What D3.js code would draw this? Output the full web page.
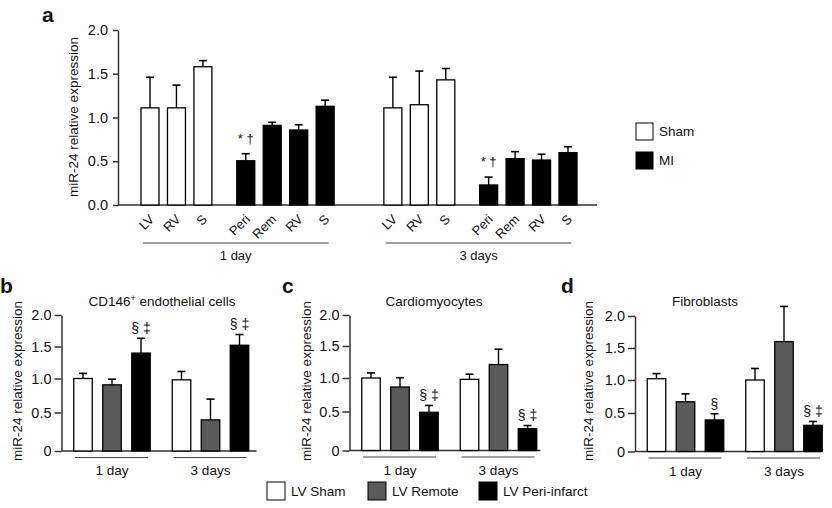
<!DOCTYPE html>
<html><head><meta charset="utf-8">
<script src="https://cdn.jsdelivr.net/npm/d3@7"></script>
<style>
body{margin:0;background:#fff}
svg{display:block}
text{font-family:"Liberation Sans",Arial,Helvetica,sans-serif;fill:#111}
</style>
</head><body>
<svg id="chart" width="832" height="508"></svg>
<script>
// ---------------- DATA ----------------
// Panel a: whole-tissue miR-24 (Sham vs MI), 1 day and 3 days
const aDays = ["1 day", "3 days"];
const aShamLabels = ["LV", "RV", "S"];
const aMILabels = ["Peri", "Rem", "RV", "S"];
const aSham1Day = [1.11, 1.11, 1.58];
const aSham1DayErr = [0.35, 0.26, 0.07];
const aMI1Day = [0.506, 0.91, 0.857, 1.128];
const aMI1DayErr = [0.08, 0.035, 0.06, 0.07];
const aSham3Day = [1.11, 1.146, 1.43];
const aSham3DayErr = [0.35, 0.385, 0.13];
const aMI3Day = [0.229, 0.53, 0.514, 0.598];
const aMI3DayErr = [0.09, 0.08, 0.066, 0.068];
const aMIMarks = ["* \u2020", "", "", ""];
const aTickValues = [0, 0.5, 1.0, 1.5, 2.0];
const aTickLabels = ["0.0", "0.5", "1.0", "1.5", "2.0"];
const aLegend = ["Sham", "MI"];

// Panels b-d: isolated cell types
const cellSeries = ["LV Sham", "LV Remote", "LV Peri-infarct"];
const cellDays = ["1 day", "3 days"];
const cellTickValues = [0, 0.5, 1.0, 1.5, 2.0];
const cellTickLabels = ["0", "0.5", "1.0", "1.5", "2.0"];

const bTitle = "CD146";
const b1Day = [1.0, 0.907, 1.397];
const b1DayErr = [0.08, 0.083, 0.233];
const b3Day = [0.98, 0.404, 1.52];
const b3DayErr = [0.13, 0.293, 0.17];
const bMarks1Day = ["", "", "\u00a7 \u2021"];
const bMarks3Day = ["", "", "\u00a7 \u2021"];

const cTitle = "Cardiomyocytes";
const c1Day = [1.0, 0.865, 0.49];
const c1DayErr = [0.08, 0.14, 0.10];
const c3Day = [0.98, 1.21, 0.28];
const c3DayErr = [0.08, 0.24, 0.04];
const cMarks1Day = ["", "", "\u00a7 \u2021"];
const cMarks3Day = ["", "", "\u00a7 \u2021"];

const dTitle = "Fibroblasts";
const d1Day = [1.02, 0.67, 0.41];
const d1DayErr = [0.08, 0.12, 0.08];
const d3Day = [1.0, 1.60, 0.34];
const d3DayErr = [0.18, 0.55, 0.05];
const dMarks1Day = ["", "", "\u00a7"];
const dMarks3Day = ["", "", "\u00a7 \u2021"];

// ---------------- STYLE ----------------
const AXIS = "#333";
const seriesFill = {"LV Sham": "#ffffff", "LV Remote": "#5b5b5b", "LV Peri-infarct": "#000000"};
const svg = d3.select("#chart");

function drawYAxis(g, y, x, tickLabels, tickValues, tickLen, pad) {
  const ax = d3.axisLeft(y).tickValues(tickValues)
    .tickFormat((d, i) => tickLabels[i]).tickSize(tickLen).tickSizeOuter(0).tickPadding(pad);
  const gg = g.append("g").attr("transform", `translate(${x},0)`).call(ax);
  gg.select(".domain").attr("stroke", AXIS).attr("stroke-width", 1.5);
  gg.selectAll(".tick line").attr("stroke", AXIS).attr("stroke-width", 1.5);
  gg.selectAll(".tick text").attr("font-size", "14.5px").attr("fill", "#111")
    .attr("font-family", '"Liberation Sans",Arial,Helvetica,sans-serif');
  return gg;
}

function drawBar(g, cx, w, y, v, e, fill) {
  const y0 = y(0);
  if (e > 0) {
    g.append("line").attr("x1", cx).attr("x2", cx).attr("y1", y(v)).attr("y2", y(v + e))
      .attr("stroke", "#000").attr("stroke-width", 1.4);
    g.append("line").attr("x1", cx - 4).attr("x2", cx + 4).attr("y1", y(v + e)).attr("y2", y(v + e))
      .attr("stroke", "#000").attr("stroke-width", 1.6);
  }
  g.append("rect").attr("x", cx - w / 2).attr("y", y(v)).attr("width", w).attr("height", y0 - y(v))
    .attr("fill", fill).attr("stroke", "#000").attr("stroke-width", 1.3);
}

// ---------------- PANEL a ----------------
(function () {
  const g = svg.append("g");
  const axisX = 118;
  const y = d3.scaleLinear().domain([0, 2]).range([205, 30]);
  // slot layout: Sham bars 0..2, MI bars start after a gap; second day offset
  const MI_OFFSET = 3.62, DAY_OFFSET = 9.18;
  const x = d3.scaleLinear().domain([0, 15.8]).range([150, 568]);
  const bw = 18;
  const shamVals = [aSham1Day, aSham3Day], shamErr = [aSham1DayErr, aSham3DayErr];
  const miVals = [aMI1Day, aMI3Day], miErr = [aMI1DayErr, aMI3DayErr];

  // baseline
  g.append("line").attr("x1", axisX).attr("x2", 597).attr("y1", y(0)).attr("y2", y(0))
    .attr("stroke", AXIS).attr("stroke-width", 1.5);

  aDays.forEach((day, di) => {
    const base = di * DAY_OFFSET;
    const labels = [];
    shamVals[di].forEach((v, i) => {
      const cx = x(base + i);
      drawBar(g, cx, bw, y, v, shamErr[di][i], "#fff");
      labels.push([cx, aShamLabels[i]]);
    });
    miVals[di].forEach((v, j) => {
      const cx = x(base + MI_OFFSET + j);
      drawBar(g, cx, bw, y, v, miErr[di][j], "#000");
      labels.push([cx, aMILabels[j]]);
      if (aMIMarks[j]) {
        g.append("text").attr("x", cx).attr("y", y(v + miErr[di][j]) - 11)
          .attr("text-anchor", "middle").attr("font-size", "13px").text(aMIMarks[j]);
      }
    });
    labels.forEach(([cx, t]) => {
      g.append("text").attr("transform", `translate(${cx + 5},220) rotate(-45)`)
        .attr("text-anchor", "end").attr("font-size", "13px").text(t);
    });
    const x1 = x(base - 0.27), x2 = x(base + MI_OFFSET + 3 + 0.13);
    g.append("line").attr("x1", x1).attr("x2", x2).attr("y1", 243).attr("y2", 243)
      .attr("stroke", "#444").attr("stroke-width", 1.2);
    g.append("text").attr("x", (x1 + x2) / 2).attr("y", 260).attr("text-anchor", "middle")
      .attr("font-size", "13px").text(day);
  });

  drawYAxis(g, y, axisX, aTickLabels, aTickValues, 5, 5);
  g.append("text").attr("transform", `translate(73,117) rotate(-90)`).attr("dy", "0.35em")
    .attr("text-anchor", "middle").attr("font-size", "13.5px").text("miR-24 relative expression");
  g.append("text").attr("x", 42).attr("y", 22).attr("font-size", "21px").attr("font-weight", "bold").text("a");

  // legend
  const legFill = ["#fff", "#000"];
  aLegend.forEach((t, i) => {
    g.append("rect").attr("x", 636).attr("y", 123 + i * 29).attr("width", 17).attr("height", 17)
      .attr("fill", legFill[i]).attr("stroke", "#000").attr("stroke-width", 1);
    g.append("text").attr("x", 659).attr("y", 131.5 + i * 29).attr("dy", "0.35em")
      .attr("font-size", "13.5px").text(t);
  });
})();

// ---------------- PANELS b-d ----------------
function cellPanel(opts) {
  const g = svg.append("g");
  const y = d3.scaleLinear().domain(cellTickValues).range(opts.yRange);
  const gx = d3.scalePoint().domain(cellDays).range([opts.axisX + 50.5, opts.axisX + 149]);
  const inner = d3.scaleBand().domain(cellSeries).range([-38.25, 38.25]).paddingInner(0.362);
  const bw = inner.bandwidth();
  const vals = [opts.v1, opts.v3], errs = [opts.e1, opts.e3], marks = [opts.m1, opts.m3];

  g.append("line").attr("x1", opts.axisX).attr("x2", opts.axisX + opts.baseLen)
    .attr("y1", y(0)).attr("y2", y(0)).attr("stroke", AXIS).attr("stroke-width", 1.5);

  cellDays.forEach((day, di) => {
    const gc = gx(day);
    cellSeries.forEach((s, si) => {
      const cx = gc + inner(s) + bw / 2;
      const v = vals[di][si], e = errs[di][si];
      drawBar(g, cx, bw, y, v, e, seriesFill[s]);
      if (marks[di][si]) {
        g.append("text").attr("x", cx).attr("y", y(v + e) - 10).attr("dy", "0.35em")
          .attr("text-anchor", "middle").attr("font-size", "14px").text(marks[di][si]);
      }
    });
    g.append("line").attr("x1", gc - 37).attr("x2", gc + 36).attr("y1", y(0) + 6.5).attr("y2", y(0) + 6.5)
      .attr("stroke", "#444").attr("stroke-width", 1.2);
    g.append("text").attr("x", gc).attr("y", y(0) + 24).attr("text-anchor", "middle")
      .attr("font-size", "13.5px").text(day);
  });

  drawYAxis(g, y, opts.axisX, cellTickLabels, cellTickValues, 7, 3);
  g.append("text").attr("transform", `translate(${opts.labelX},381) rotate(-90)`).attr("dy", "0.35em")
    .attr("text-anchor", "middle").attr("font-size", "13.5px").text("miR-24 relative expression");
  const t = g.append("text").attr("x", opts.titleX).attr("y", 306).attr("text-anchor", "middle")
    .attr("font-size", "13.5px").text(opts.title);
  if (opts.sup) {
    t.append("tspan").attr("font-size", "9px").attr("dy", "-5").text(opts.sup);
    t.append("tspan").attr("dy", "5").text(" endothelial cells");
  }
  g.append("text").attr("x", opts.letterX).attr("y", 293).attr("font-size", "21px")
    .attr("font-weight", "bold").text(opts.letter);
}

cellPanel({letter: "b", letterX: 0, axisX: 61.5, baseLen: 195, yRange: [451, 412.5, 378.5, 346.5, 315],
  labelX: 17, title: bTitle, sup: "+", titleX: 162,
  v1: b1Day, e1: b1DayErr, v3: b3Day, e3: b3DayErr, m1: bMarks1Day, m3: bMarks3Day});
cellPanel({letter: "c", letterX: 282, axisX: 349.5, baseLen: 191, yRange: [450.5, 411.5, 378, 346, 315],
  labelX: 306, title: cTitle, titleX: 434,
  v1: c1Day, e1: c1DayErr, v3: c3Day, e3: c3DayErr, m1: cMarks1Day, m3: cMarks3Day});
cellPanel({letter: "d", letterX: 561, axisX: 635, baseLen: 186, yRange: [451.5, 413, 380, 348, 316],
  labelX: 588, title: dTitle, titleX: 705,
  v1: d1Day, e1: d1DayErr, v3: d3Day, e3: d3DayErr, m1: dMarks1Day, m3: dMarks3Day});

// bottom legend
(function () {
  const g = svg.append("g");
  const xs = [267, 368, 479];
  cellSeries.forEach((s, i) => {
    g.append("rect").attr("x", xs[i]).attr("y", 482).attr("width", 18).attr("height", 18)
      .attr("fill", seriesFill[s]).attr("stroke", "#000").attr("stroke-width", 1);
    g.append("text").attr("x", xs[i] + 24).attr("y", 491).attr("dy", "0.35em")
      .attr("font-size", "13.5px").text(s);
  });
})();
</script>
</body></html>
